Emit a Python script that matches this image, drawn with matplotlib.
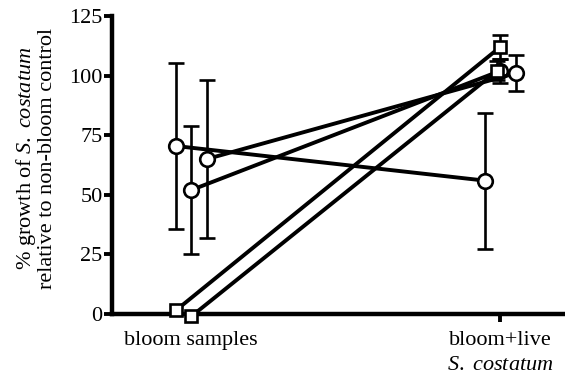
import numpy as np
import matplotlib
matplotlib.use('Agg')
import matplotlib.pyplot as plt

# two conditions on the x axis
categories = ['bloom samples', 'bloom+live\n$\\it{S.\\ costatum}$']

# each series: value at bloom samples, value at bloom+live, and their error bars
circle_left = [70.5, 52, 65]
circle_left_err = [35, 27, 33]
circle_right = [56, 102, 101]
circle_right_err = [28.5, 5, 7.5]
circle_offsets_left = [-0.05, 0.0, 0.05]
circle_offsets_right = [-0.05, 0.0, 0.05]

square_left = [1.5, -1]
square_right = [112, 102]
square_right_err = [5, 4]
square_offsets_left = [-0.05, 0.0]
square_offsets_right = [0.0, -0.01]

plt.rcParams['font.family'] = ['Liberation Serif']
plt.rcParams['mathtext.fontset'] = 'custom'
plt.rcParams['mathtext.it'] = 'Liberation Serif:italic'
plt.rcParams['mathtext.rm'] = 'Liberation Serif'

fs = 16
fig = plt.figure(figsize=(5.65, 3.83), dpi=100)
ax = fig.add_axes([0.199, 0.18, 0.801, 0.778])

lw = 2.8
for i in range(len(circle_left)):
    xs = [0 + circle_offsets_left[i], 1 + circle_offsets_right[i]]
    ys = [circle_left[i], circle_right[i]]
    errs = [circle_left_err[i], circle_right_err[i]]
    ax.errorbar(xs, ys, yerr=errs, fmt='none', ecolor='black', elinewidth=1.9,
                capsize=6, capthick=1.9, zorder=2)
    ax.plot(xs, ys, '-o', color='black', lw=lw, markersize=10.5,
            markerfacecolor='white', markeredgecolor='black', markeredgewidth=1.9, zorder=3)

for i in range(len(square_left)):
    xs = [0 + square_offsets_left[i], 1 + square_offsets_right[i]]
    ys = [square_left[i], square_right[i]]
    ax.errorbar(xs[1], ys[1], yerr=square_right_err[i], fmt='none', ecolor='black',
                elinewidth=1.9, capsize=6, capthick=1.9, zorder=2)
    ax.plot(xs, ys, '-s', color='black', lw=lw, markersize=9,
            markerfacecolor='white', markeredgecolor='black', markeredgewidth=1.9, zorder=3)

ax.set_xlim(-0.255, 1.21)
ax.set_ylim(0, 125)
ax.set_yticks([0, 25, 50, 75, 100, 125])
ax.set_xticks([0, 1])
ax.set_xticklabels(categories, fontsize=fs, linespacing=1.45)
ax.tick_params(axis='y', labelsize=fs, width=2.8, length=6, pad=1)
ax.tick_params(axis='x', width=2.8, length=6, pad=6)

for side in ['top', 'right']:
    ax.spines[side].set_visible(False)
for side in ['left', 'bottom']:
    ax.spines[side].set_linewidth(3.2)

ax.set_ylabel('% growth of $\\it{S.\\ costatum}$\nrelative to non-bloom control',
              fontsize=fs, linespacing=1.0)
ax.yaxis.set_label_coords(-0.122, 0.523)

for m in ax.get_lines():
    m.set_clip_on(False)
for c in ax.collections:
    c.set_clip_on(False)

fig.savefig('out.png', dpi=100)
